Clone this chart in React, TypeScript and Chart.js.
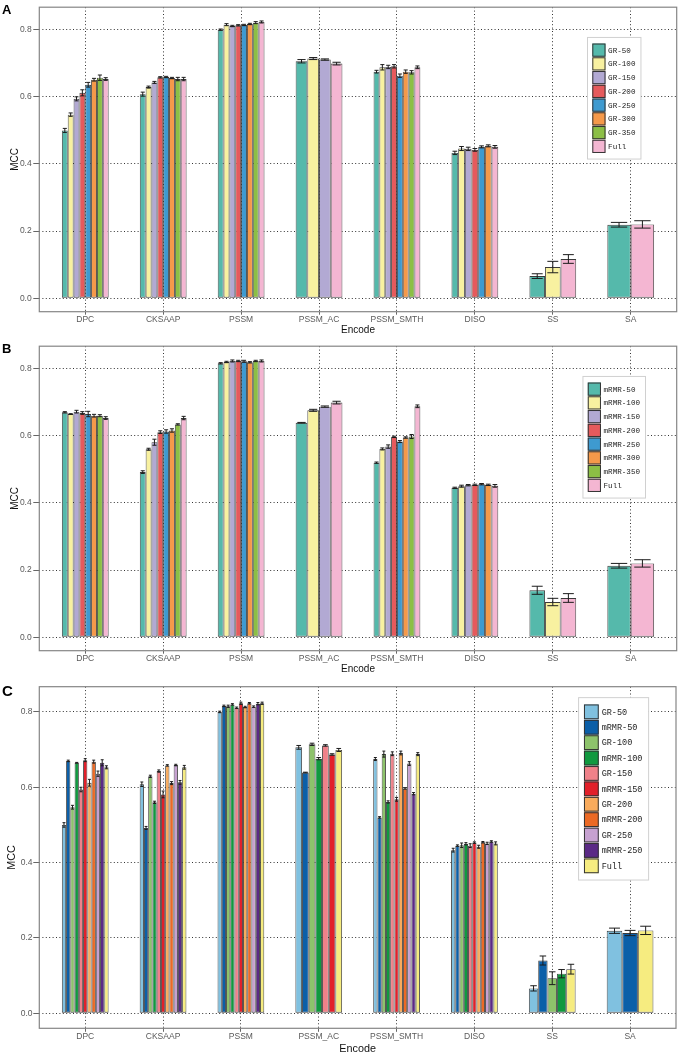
import React, { useEffect, useRef } from "react";
import { Chart, registerables } from "chart.js";

Chart.register(...registerables);

// ---------- data ----------
const categories = ["DPC", "CKSAAP", "PSSM", "PSSM_AC", "PSSM_SMTH", "DISO", "SS", "SA"];
const yTickValues = [0, 0.2, 0.4, 0.6, 0.8];

// GR feature sets (panel A)
const gr50 = [0.500, 0.608, 0.800, 0.706, 0.675, 0.433, 0.066, 0.219];
const gr100 = [0.547, 0.629, 0.815, 0.714, 0.688, 0.446, 0.093, null];
const gr150 = [0.594, 0.643, 0.811, 0.711, 0.689, 0.445, null, null];
const gr200 = [0.612, 0.658, 0.813, null, 0.691, 0.442, null, null];
const gr250 = [0.636, 0.659, 0.814, null, 0.663, 0.451, null, null];
const gr300 = [0.651, 0.656, 0.817, null, 0.675, 0.454, null, null];
const gr350 = [0.657, 0.653, 0.821, null, 0.673, null, null, null];

const gr50Err = [0.006, 0.006, 0.002, 0.005, 0.004, 0.005, 0.007, 0.007];
const gr100Err = [0.005, 0.003, 0.003, 0.003, 0.008, 0.006, 0.017, null];
const gr150Err = [0.006, 0.003, 0.002, 0.002, 0.005, 0.005, null, null];
const gr200Err = [0.009, 0.002, 0.002, null, 0.005, 0.004, null, null];
const gr250Err = [0.007, 0.002, 0.002, null, 0.005, 0.003, null, null];
const gr300Err = [0.004, 0.002, 0.002, null, 0.005, 0.003, null, null];
const gr350Err = [0.008, 0.005, 0.003, null, 0.005, null, null, null];

// mRMR feature sets (panel B)
const mrmr50 = [0.670, 0.492, 0.816, 0.639, 0.520, 0.445, 0.140, 0.213];
const mrmr100 = [0.665, 0.560, 0.820, 0.676, 0.561, 0.450, 0.105, null];
const mrmr150 = [0.672, 0.581, 0.823, 0.687, 0.568, 0.453, null, null];
const mrmr200 = [0.668, 0.611, 0.823, null, 0.597, 0.454, null, null];
const mrmr250 = [0.665, 0.613, 0.822, null, 0.583, 0.456, null, null];
const mrmr300 = [0.660, 0.616, 0.819, null, 0.595, 0.454, null, null];
const mrmr350 = [0.660, 0.634, 0.823, null, 0.598, null, null, null];

const mrmr50Err = [0.002, 0.004, 0.002, 0.001, 0.002, 0.002, 0.012, 0.007];
const mrmr100Err = [0.001, 0.003, 0.002, 0.003, 0.003, 0.003, 0.011, null];
const mrmr150Err = [0.004, 0.009, 0.003, 0.002, 0.005, 0.002, null, null];
const mrmr200Err = [0.004, 0.004, 0.002, null, 0.002, 0.002, null, null];
const mrmr250Err = [0.008, 0.005, 0.003, null, 0.003, 0.002, null, null];
const mrmr300Err = [0.004, 0.005, 0.002, null, 0.002, 0.002, null, null];
const mrmr350Err = [0.003, 0.002, 0.002, null, 0.006, null, null, null];

// Full feature set
const full = [0.653, 0.653, 0.823, 0.699, 0.688, 0.451, 0.117, 0.220];
const fullErr = [0.004, 0.005, 0.003, 0.004, 0.004, 0.004, 0.013, 0.011];

// colours
const setColors = ["#55b9ab", "#f8f1a0", "#b2a9d3", "#e55a5c", "#3e9ad0", "#f5994a", "#8cbf45", "#f4b6d2"];
const pairedColors = ["#80c1e0", "#0b5fa8", "#8dc36b", "#10993f", "#ef8189", "#e2202a", "#f9ab5c", "#ec6a25", "#c6a1d0", "#5b2a86", "#f6ec80"];

type Series = { label: string; values: (number | null)[]; errors: (number | null)[]; color: string };

const seriesA: Series[] = [
  { label: "GR-50", values: gr50, errors: gr50Err, color: setColors[0] },
  { label: "GR-100", values: gr100, errors: gr100Err, color: setColors[1] },
  { label: "GR-150", values: gr150, errors: gr150Err, color: setColors[2] },
  { label: "GR-200", values: gr200, errors: gr200Err, color: setColors[3] },
  { label: "GR-250", values: gr250, errors: gr250Err, color: setColors[4] },
  { label: "GR-300", values: gr300, errors: gr300Err, color: setColors[5] },
  { label: "GR-350", values: gr350, errors: gr350Err, color: setColors[6] },
  { label: "Full", values: full, errors: fullErr, color: setColors[7] },
];

const seriesB: Series[] = [
  { label: "mRMR-50", values: mrmr50, errors: mrmr50Err, color: setColors[0] },
  { label: "mRMR-100", values: mrmr100, errors: mrmr100Err, color: setColors[1] },
  { label: "mRMR-150", values: mrmr150, errors: mrmr150Err, color: setColors[2] },
  { label: "mRMR-200", values: mrmr200, errors: mrmr200Err, color: setColors[3] },
  { label: "mRMR-250", values: mrmr250, errors: mrmr250Err, color: setColors[4] },
  { label: "mRMR-300", values: mrmr300, errors: mrmr300Err, color: setColors[5] },
  { label: "mRMR-350", values: mrmr350, errors: mrmr350Err, color: setColors[6] },
  { label: "Full", values: full, errors: fullErr, color: setColors[7] },
];

const seriesC: Series[] = [
  { label: "GR-50", values: gr50, errors: gr50Err, color: pairedColors[0] },
  { label: "mRMR-50", values: mrmr50, errors: mrmr50Err, color: pairedColors[1] },
  { label: "GR-100", values: gr100, errors: gr100Err, color: pairedColors[2] },
  { label: "mRMR-100", values: mrmr100, errors: mrmr100Err, color: pairedColors[3] },
  { label: "GR-150", values: gr150, errors: gr150Err, color: pairedColors[4] },
  { label: "mRMR-150", values: mrmr150, errors: mrmr150Err, color: pairedColors[5] },
  { label: "GR-200", values: gr200, errors: gr200Err, color: pairedColors[6] },
  { label: "mRMR-200", values: mrmr200, errors: mrmr200Err, color: pairedColors[7] },
  { label: "GR-250", values: gr250, errors: gr250Err, color: pairedColors[8] },
  { label: "mRMR-250", values: mrmr250, errors: mrmr250Err, color: pairedColors[9] },
  { label: "Full", values: full, errors: fullErr, color: pairedColors[10] },
];

// ---------- styling ----------
const SANS = '"Liberation Sans", Arial, Helvetica, sans-serif';
const MONO = '"Liberation Mono", "Courier New", monospace';

type Geom = {
  top: number; right: number; yw: number; xh: number;
  xTick: number; xPad: number; yTick: number; yPad: number;
  tickFont: number; titleFont: number; yTitlePad: number; xTitlePadB: number; k: number;
};

const geomAB: Geom = { top: 7.2, right: 3.3, yw: 39.3, xh: 27.3, xTick: 3, xPad: 0.5, yTick: 6, yPad: 1.6, tickFont: 8.5, titleFont: 10, yTitlePad: 9, xTitlePadB: 3.2, k: 1 };
const geomC: Geom = { top: 8.7, right: 4, yw: 39.3, xh: 27.7, xTick: 3.5, xPad: 1, yTick: 6, yPad: 0.8, tickFont: 8.5, titleFont: 10.8, yTitlePad: 5.7, xTitlePadB: 0.6, k: 1.12 };

// ---------- plugins ----------
const errorBarPlugin = {
  id: "errorBars",
  afterDatasetsDraw(chart: any) {
    const { ctx } = chart;
    const y = chart.scales.y;
    ctx.save();
    ctx.strokeStyle = "#1c1c1c";
    ctx.lineWidth = 1;
    chart.data.datasets.forEach((ds: any, di: number) => {
      const meta = chart.getDatasetMeta(di);
      meta.data.forEach((bar: any, j: number) => {
        const v = ds.data[j].y;
        const e = ds.errors[j];
        if (v == null || e == null) return;
        const x = bar.x;
        const w = bar.width * 0.7;
        const yt = y.getPixelForValue(v + e);
        const yb = y.getPixelForValue(v - e);
        ctx.beginPath();
        ctx.moveTo(x, yt);
        ctx.lineTo(x, yb);
        ctx.moveTo(x - w / 2, yt);
        ctx.lineTo(x + w / 2, yt);
        ctx.moveTo(x - w / 2, yb);
        ctx.lineTo(x + w / 2, yb);
        ctx.stroke();
      });
    });
    ctx.restore();
  },
};

const framePlugin = {
  id: "panelFrame",
  afterDatasetsDraw(chart: any) {
    const { ctx, chartArea: a } = chart;
    ctx.save();
    ctx.strokeStyle = "#858585";
    ctx.lineWidth = 1.2;
    ctx.strokeRect(a.left, a.top, a.right - a.left, a.bottom - a.top);
    ctx.restore();
  },
};

const boxLegendPlugin = {
  id: "boxLegend",
  afterDraw(chart: any, _args: any, opts: any) {
    const { ctx, chartArea: a } = chart;
    const k = opts.k || 1;
    const items = chart.data.datasets.map((d: any) => ({ label: d.label, color: d.backgroundColor }));
    ctx.save();
    ctx.font = `${7.6 * k}px ${MONO}`;
    const tw = Math.max(...items.map((it: any) => ctx.measureText(it.label).width));
    const sw = 13.2 * k, row = 13.75 * k, padL = 4.8 * k, gap = 2.6 * k, padR = 5.5 * k, padY = 5.8 * k;
    const w = padL + sw + gap + tw + padR;
    const h = padY * 2 + row * items.length;
    const cx = a.left + 0.902 * (a.right - a.left);
    const cy = a.top + 0.299 * (a.bottom - a.top);
    const x0 = cx - w / 2, y0 = cy - h / 2;
    ctx.fillStyle = "#ffffff";
    ctx.fillRect(x0, y0, w, h);
    ctx.strokeStyle = "#d0d0d0";
    ctx.lineWidth = 1;
    ctx.strokeRect(x0, y0, w, h);
    items.forEach((it: any, i: number) => {
      const ry = y0 + padY + i * row;
      const sy = ry + (row - sw) / 2;
      ctx.fillStyle = it.color;
      ctx.fillRect(x0 + padL, sy, sw, sw);
      ctx.strokeStyle = "#333333";
      ctx.lineWidth = 1;
      ctx.strokeRect(x0 + padL + 0.5, sy + 0.5, sw - 1, sw - 1);
      ctx.fillStyle = "#222222";
      ctx.textBaseline = "middle";
      ctx.textAlign = "left";
      ctx.fillText(it.label, x0 + padL + sw + gap, ry + row / 2 + 0.5);
    });
    ctx.restore();
  },
};

function makeChart(canvas: HTMLCanvasElement, series: Series[], g: Geom) {
  return new Chart(canvas, {
    type: "bar",
    data: {
      datasets: series.map((s) => ({
        label: s.label,
        data: s.values.map((v, i) => ({ x: i, y: v })),
        errors: s.errors,
        backgroundColor: s.color,
        borderColor: "#3a3a3a",
        borderWidth: 0.9,
        borderSkipped: false,
        skipNull: true,
        categoryPercentage: 0.6,
        barPercentage: 1.0,
      })) as any,
    },
    options: {
      responsive: false,
      animation: false,
      devicePixelRatio: 1,
      events: [],
      layout: { padding: { top: g.top, right: g.right, left: 0, bottom: 0 } },
      plugins: {
        legend: { display: false },
        tooltip: { enabled: false },
        boxLegend: { k: g.k },
      } as any,
      scales: {
        x: {
          type: "linear",
          min: -0.59,
          max: 7.59,
          bounds: "data",
          offset: false,
          grid: {
            offset: false,
            color: "#333333",
            lineWidth: 1,
            drawTicks: true,
            tickLength: g.xTick,
            tickColor: "#666666",
            tickBorderDash: [],
          } as any,
          border: { display: false, dash: [1, 2.4] },
          ticks: {
            autoSkip: false,
            maxRotation: 0,
            minRotation: 0,
            padding: g.xPad,
            color: "#5a5a5a",
            font: { family: SANS, size: g.tickFont, lineHeight: 1 },
            callback: (v: any) => categories[v] ?? "",
          },
          afterBuildTicks: (s: any) => {
            s.ticks = categories.map((_, i) => ({ value: i }));
          },
          afterFit: (s: any) => {
            s.height = g.xh;
          },
          title: {
            display: true,
            text: "Encode",
            color: "#111111",
            font: { family: SANS, size: g.titleFont, lineHeight: 1.2 },
            padding: { top: 0, bottom: g.xTitlePadB },
          },
        },
        y: {
          type: "linear",
          min: -0.04,
          max: 0.867,
          bounds: "data",
          grid: {
            color: "#333333",
            lineWidth: 1,
            drawTicks: true,
            tickLength: g.yTick,
            tickColor: "#666666",
            tickBorderDash: [],
          } as any,
          border: { display: false, dash: [1, 2.4] },
          ticks: {
            padding: g.yPad,
            color: "#5a5a5a",
            font: { family: SANS, size: g.tickFont, lineHeight: 1 },
            callback: (v: any) => Number(v).toFixed(1),
          },
          afterBuildTicks: (s: any) => {
            s.ticks = yTickValues.map((v) => ({ value: v }));
          },
          afterFit: (s: any) => {
            s.width = g.yw;
          },
          title: {
            display: true,
            text: "MCC",
            color: "#111111",
            font: { family: SANS, size: g.titleFont, lineHeight: 1.2 },
            padding: { top: g.yTitlePad, bottom: 0 },
          },
        },
      } as any,
    },
    plugins: [errorBarPlugin, framePlugin, boxLegendPlugin],
  });
}

function Panel(props: { top: number; height: number; series: Series[]; geom: Geom; letter: string; letterSize: number; letterTop: number }) {
  const ref = useRef<HTMLCanvasElement>(null);
  useEffect(() => {
    if (!ref.current) return;
    const chart = makeChart(ref.current, props.series, props.geom);
    return () => chart.destroy();
  }, []);
  return (
    <div style={{ position: "absolute", left: 0, top: props.top, width: 680, height: props.height }}>
      <canvas ref={ref} width={680} height={props.height} style={{ display: "block" }} />
      <div
        style={{
          position: "absolute",
          left: 2,
          top: props.letterTop,
          fontFamily: SANS,
          fontWeight: "bold",
          fontSize: props.letterSize,
          lineHeight: 1,
          color: "#000",
        }}
      >
        {props.letter}
      </div>
    </div>
  );
}

export default function App() {
  return (
    <div style={{ position: "absolute", left: 0, top: 0, width: 680, height: 1056, background: "#ffffff", overflow: "hidden" }}>
      <Panel top={0} height={339} series={seriesA} geom={geomAB} letter="A" letterSize={13} letterTop={3.3} />
      <Panel top={339} height={339} series={seriesB} geom={geomAB} letter="B" letterSize={13} letterTop={3.3} />
      <Panel top={678} height={378} series={seriesC} geom={geomC} letter="C" letterSize={15} letterTop={5} />
    </div>
  );
}
